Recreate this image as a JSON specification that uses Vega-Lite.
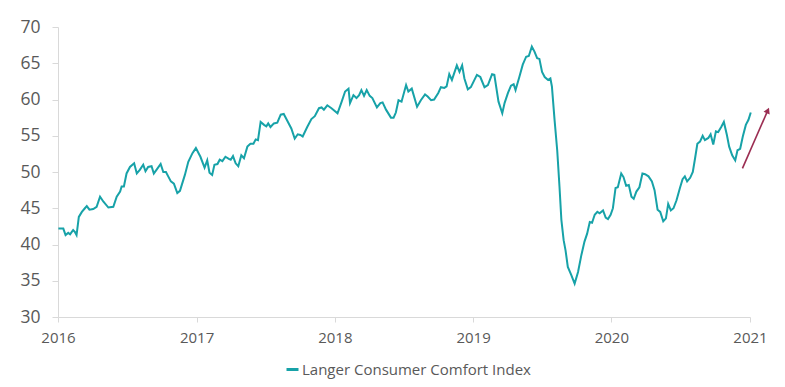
{
  "$schema": "https://vega.github.io/schema/vega-lite/v6.json",
  "autosize": {"type": "none"},
  "width": 692,
  "height": 290,
  "padding": {"left": 58, "top": 27, "right": 35, "bottom": 70},
  "background": "white",
  "config": {
    "view": {"stroke": null},
    "font": "Open Sans",
    "axis": {"grid": false, "domainColor": "#d9d9d9", "tickColor": "#d9d9d9", "labelColor": "#595959", "labelFont": "Open Sans", "title": null, "labelOverlap": false},
    "axisY": {"labelFontSize": 17.5, "tickSize": 6, "labelPadding": 12, "labelOverlap": false, "labelFlush": false},
    "axisX": {"labelFontSize": 15, "tickSize": 5, "labelPadding": 8, "labelFlush": false, "labelOverlap": false}
  },
  "datasets": {
    "idx": [
      {"d": "2016-01-02", "v": 42.2}, {"d": "2016-01-15", "v": 42.2}, {"d": "2016-01-21", "v": 41.3}, {"d": "2016-01-28", "v": 41.6},
      {"d": "2016-02-02", "v": 41.4}, {"d": "2016-02-06", "v": 41.7}, {"d": "2016-02-10", "v": 42.0}, {"d": "2016-02-15", "v": 41.7},
      {"d": "2016-02-19", "v": 41.3}, {"d": "2016-02-25", "v": 43.8}, {"d": "2016-03-04", "v": 44.5}, {"d": "2016-03-12", "v": 45.0},
      {"d": "2016-03-17", "v": 45.3}, {"d": "2016-03-24", "v": 44.8}, {"d": "2016-04-03", "v": 44.9}, {"d": "2016-04-12", "v": 45.2},
      {"d": "2016-04-21", "v": 46.6}, {"d": "2016-04-30", "v": 45.9}, {"d": "2016-05-13", "v": 45.1}, {"d": "2016-05-26", "v": 45.2},
      {"d": "2016-06-04", "v": 46.6}, {"d": "2016-06-13", "v": 47.3}, {"d": "2016-06-17", "v": 48.0}, {"d": "2016-06-23", "v": 48.0},
      {"d": "2016-06-30", "v": 49.8}, {"d": "2016-07-09", "v": 50.7}, {"d": "2016-07-20", "v": 51.2}, {"d": "2016-07-27", "v": 49.8},
      {"d": "2016-08-04", "v": 50.3}, {"d": "2016-08-13", "v": 51.0}, {"d": "2016-08-19", "v": 50.1}, {"d": "2016-08-26", "v": 50.7},
      {"d": "2016-09-04", "v": 50.8}, {"d": "2016-09-10", "v": 49.8}, {"d": "2016-09-17", "v": 50.3}, {"d": "2016-09-28", "v": 51.1},
      {"d": "2016-10-05", "v": 50.0}, {"d": "2016-10-12", "v": 50.0}, {"d": "2016-10-18", "v": 49.4}, {"d": "2016-10-25", "v": 48.7},
      {"d": "2016-11-02", "v": 48.4}, {"d": "2016-11-11", "v": 47.1}, {"d": "2016-11-18", "v": 47.4}, {"d": "2016-12-01", "v": 49.6},
      {"d": "2016-12-10", "v": 51.4}, {"d": "2016-12-21", "v": 52.6}, {"d": "2016-12-30", "v": 53.3},
      {"d": "2017-01-11", "v": 52.1}, {"d": "2017-01-22", "v": 50.6}, {"d": "2017-01-29", "v": 51.6}, {"d": "2017-02-04", "v": 49.9},
      {"d": "2017-02-11", "v": 49.6}, {"d": "2017-02-17", "v": 51.0}, {"d": "2017-02-25", "v": 51.1}, {"d": "2017-03-03", "v": 51.7},
      {"d": "2017-03-10", "v": 51.5}, {"d": "2017-03-18", "v": 52.1}, {"d": "2017-03-27", "v": 51.8}, {"d": "2017-04-01", "v": 51.7},
      {"d": "2017-04-07", "v": 52.2}, {"d": "2017-04-14", "v": 51.2}, {"d": "2017-04-21", "v": 50.8}, {"d": "2017-04-29", "v": 52.3},
      {"d": "2017-05-06", "v": 51.9}, {"d": "2017-05-15", "v": 53.5}, {"d": "2017-05-23", "v": 53.9}, {"d": "2017-05-31", "v": 53.9},
      {"d": "2017-06-06", "v": 54.5}, {"d": "2017-06-12", "v": 54.4}, {"d": "2017-06-19", "v": 56.9}, {"d": "2017-06-28", "v": 56.5},
      {"d": "2017-07-04", "v": 56.3}, {"d": "2017-07-09", "v": 56.7}, {"d": "2017-07-15", "v": 56.2}, {"d": "2017-07-24", "v": 56.7},
      {"d": "2017-08-02", "v": 56.8}, {"d": "2017-08-11", "v": 57.9}, {"d": "2017-08-19", "v": 58.0}, {"d": "2017-08-28", "v": 57.1},
      {"d": "2017-09-08", "v": 56.0}, {"d": "2017-09-17", "v": 54.6}, {"d": "2017-09-25", "v": 55.2}, {"d": "2017-10-02", "v": 55.1},
      {"d": "2017-10-08", "v": 54.9}, {"d": "2017-10-20", "v": 56.2}, {"d": "2017-10-31", "v": 57.3}, {"d": "2017-11-09", "v": 57.7},
      {"d": "2017-11-20", "v": 58.8}, {"d": "2017-11-27", "v": 58.9}, {"d": "2017-12-03", "v": 58.6}, {"d": "2017-12-12", "v": 59.2},
      {"d": "2017-12-23", "v": 58.8},
      {"d": "2018-01-08", "v": 58.1}, {"d": "2018-01-19", "v": 59.7}, {"d": "2018-01-28", "v": 61.1}, {"d": "2018-02-06", "v": 61.5},
      {"d": "2018-02-10", "v": 59.5}, {"d": "2018-02-19", "v": 60.6}, {"d": "2018-02-27", "v": 60.2}, {"d": "2018-03-06", "v": 60.6},
      {"d": "2018-03-12", "v": 61.3}, {"d": "2018-03-19", "v": 60.5}, {"d": "2018-03-26", "v": 61.3}, {"d": "2018-04-03", "v": 60.5},
      {"d": "2018-04-10", "v": 60.2}, {"d": "2018-04-22", "v": 58.9}, {"d": "2018-05-01", "v": 59.5}, {"d": "2018-05-07", "v": 59.6},
      {"d": "2018-05-16", "v": 58.6}, {"d": "2018-05-29", "v": 57.5}, {"d": "2018-06-05", "v": 57.5}, {"d": "2018-06-11", "v": 58.2},
      {"d": "2018-06-18", "v": 59.9}, {"d": "2018-06-26", "v": 59.7}, {"d": "2018-07-08", "v": 62.0}, {"d": "2018-07-14", "v": 61.1},
      {"d": "2018-07-23", "v": 61.5}, {"d": "2018-08-06", "v": 59.0}, {"d": "2018-08-16", "v": 59.9}, {"d": "2018-08-27", "v": 60.7},
      {"d": "2018-09-03", "v": 60.4}, {"d": "2018-09-12", "v": 59.9}, {"d": "2018-09-20", "v": 60.0}, {"d": "2018-10-01", "v": 60.9},
      {"d": "2018-10-08", "v": 61.7}, {"d": "2018-10-17", "v": 61.6}, {"d": "2018-10-23", "v": 61.8}, {"d": "2018-10-30", "v": 63.5},
      {"d": "2018-11-06", "v": 62.7}, {"d": "2018-11-19", "v": 64.7}, {"d": "2018-11-26", "v": 63.8}, {"d": "2018-12-03", "v": 64.7},
      {"d": "2018-12-09", "v": 62.9}, {"d": "2018-12-18", "v": 61.4}, {"d": "2018-12-26", "v": 61.7},
      {"d": "2019-01-11", "v": 63.4}, {"d": "2019-01-20", "v": 63.1}, {"d": "2019-01-31", "v": 61.7}, {"d": "2019-02-09", "v": 62.0},
      {"d": "2019-02-20", "v": 63.5}, {"d": "2019-02-26", "v": 63.4}, {"d": "2019-03-09", "v": 59.7}, {"d": "2019-03-19", "v": 58.1},
      {"d": "2019-03-25", "v": 59.5}, {"d": "2019-04-03", "v": 60.9}, {"d": "2019-04-11", "v": 61.9}, {"d": "2019-04-18", "v": 62.1},
      {"d": "2019-04-23", "v": 61.3}, {"d": "2019-05-03", "v": 63.1}, {"d": "2019-05-12", "v": 64.8}, {"d": "2019-05-21", "v": 65.9},
      {"d": "2019-05-28", "v": 66.0}, {"d": "2019-06-05", "v": 67.3}, {"d": "2019-06-12", "v": 66.6}, {"d": "2019-06-19", "v": 65.7},
      {"d": "2019-06-25", "v": 65.6}, {"d": "2019-07-02", "v": 63.8}, {"d": "2019-07-09", "v": 63.1}, {"d": "2019-07-18", "v": 62.7},
      {"d": "2019-07-24", "v": 62.9}, {"d": "2019-07-28", "v": 61.8}, {"d": "2019-08-04", "v": 57.2}, {"d": "2019-08-11", "v": 53.0},
      {"d": "2019-08-17", "v": 48.0}, {"d": "2019-08-22", "v": 43.4}, {"d": "2019-08-28", "v": 40.6}, {"d": "2019-09-02", "v": 39.2},
      {"d": "2019-09-08", "v": 36.9}, {"d": "2019-09-17", "v": 35.8}, {"d": "2019-09-26", "v": 34.6}, {"d": "2019-10-05", "v": 36.2},
      {"d": "2019-10-14", "v": 38.6}, {"d": "2019-10-22", "v": 40.4}, {"d": "2019-10-29", "v": 41.5}, {"d": "2019-11-05", "v": 43.1},
      {"d": "2019-11-11", "v": 43.0}, {"d": "2019-11-18", "v": 44.1}, {"d": "2019-11-25", "v": 44.5}, {"d": "2019-12-01", "v": 44.3},
      {"d": "2019-12-10", "v": 44.7}, {"d": "2019-12-17", "v": 43.7}, {"d": "2019-12-23", "v": 43.5}, {"d": "2019-12-30", "v": 44.1},
      {"d": "2020-01-05", "v": 45.0}, {"d": "2020-01-12", "v": 47.8}, {"d": "2020-01-18", "v": 47.9}, {"d": "2020-01-27", "v": 49.8},
      {"d": "2020-02-02", "v": 49.3}, {"d": "2020-02-09", "v": 48.1}, {"d": "2020-02-16", "v": 48.2}, {"d": "2020-02-23", "v": 46.6},
      {"d": "2020-02-29", "v": 46.3}, {"d": "2020-03-07", "v": 47.3}, {"d": "2020-03-15", "v": 47.9}, {"d": "2020-03-23", "v": 49.8},
      {"d": "2020-03-30", "v": 49.7}, {"d": "2020-04-08", "v": 49.4}, {"d": "2020-04-17", "v": 48.7}, {"d": "2020-04-24", "v": 47.5},
      {"d": "2020-05-02", "v": 44.8}, {"d": "2020-05-09", "v": 44.5}, {"d": "2020-05-17", "v": 43.2}, {"d": "2020-05-24", "v": 43.6},
      {"d": "2020-05-30", "v": 45.6}, {"d": "2020-06-06", "v": 44.7}, {"d": "2020-06-13", "v": 45.0}, {"d": "2020-06-21", "v": 46.1},
      {"d": "2020-06-30", "v": 47.8}, {"d": "2020-07-07", "v": 49.0}, {"d": "2020-07-13", "v": 49.4}, {"d": "2020-07-19", "v": 48.7},
      {"d": "2020-07-27", "v": 49.2}, {"d": "2020-08-03", "v": 50.0}, {"d": "2020-08-09", "v": 51.9}, {"d": "2020-08-15", "v": 53.9},
      {"d": "2020-08-22", "v": 54.2}, {"d": "2020-08-29", "v": 55.0}, {"d": "2020-09-04", "v": 54.4}, {"d": "2020-09-13", "v": 54.7},
      {"d": "2020-09-19", "v": 55.2}, {"d": "2020-09-26", "v": 53.8}, {"d": "2020-10-03", "v": 55.6}, {"d": "2020-10-09", "v": 55.5},
      {"d": "2020-10-17", "v": 56.2}, {"d": "2020-10-24", "v": 56.9}, {"d": "2020-11-01", "v": 55.1}, {"d": "2020-11-07", "v": 53.5},
      {"d": "2020-11-15", "v": 52.3}, {"d": "2020-11-23", "v": 51.6}, {"d": "2020-11-29", "v": 53.0}, {"d": "2020-12-06", "v": 53.2},
      {"d": "2020-12-13", "v": 54.9}, {"d": "2020-12-21", "v": 56.5}, {"d": "2020-12-28", "v": 57.2}, {"d": "2021-01-03", "v": 58.2}
    ],
    "arrow": [{"d": "2020-12-12", "v": 50.5, "d2": "2021-02-17", "v2": 58.5}]
  },
  "layer": [
    {
      "data": {"name": "idx"},
      "transform": [{"calculate": "'Langer Consumer Comfort Index'", "as": "s"}],
      "mark": {"type": "line", "strokeWidth": 2, "interpolate": "linear"},
      "encoding": {
        "x": {
          "field": "d", "type": "temporal",
          "scale": {"type": "utc", "domain": [{"year": 2016, "month": 1, "date": 1, "utc": true}, {"year": 2021, "month": 1, "date": 1, "utc": true}]},
          "axis": {
            "values": [{"year": 2016, "month": 1, "date": 1, "utc": true}, {"year": 2017, "month": 1, "date": 1, "utc": true}, {"year": 2018, "month": 1, "date": 1, "utc": true}, {"year": 2019, "month": 1, "date": 1, "utc": true}, {"year": 2020, "month": 1, "date": 1, "utc": true}, {"year": 2021, "month": 1, "date": 1, "utc": true}],
            "format": "%Y", "formatType": "utc"
          }
        },
        "y": {
          "field": "v", "type": "quantitative",
          "scale": {"domain": [30, 70], "nice": false, "zero": false},
          "axis": {"values": [30, 35, 40, 45, 50, 55, 60, 65, 70]}
        },
        "color": {
          "field": "s", "type": "nominal",
          "scale": {"range": ["#17a2a8"]},
          "legend": {"title": null, "orient": "none", "legendX": 227, "legendY": 335, "symbolType": "stroke", "symbolSize": 144, "symbolStrokeWidth": 3, "labelFontSize": 15, "labelColor": "#595959", "labelOffset": 2, "labelFont": "Open Sans", "labelLimit": 0, "padding": 0}
        }
      }
    },
    {
      "data": {"name": "arrow"},
      "mark": {"type": "rule", "color": "#9b2d52", "strokeWidth": 1.6},
      "encoding": {
        "x": {"field": "d", "type": "temporal"},
        "y": {"field": "v", "type": "quantitative", "axis": {"values": [30, 35, 40, 45, 50, 55, 60, 65, 70]}},
        "x2": {"field": "d2"},
        "y2": {"field": "v2"}
      }
    },
    {
      "data": {"name": "arrow"},
      "mark": {"type": "point", "shape": "triangle-up", "filled": true, "color": "#9b2d52", "size": 45, "angle": 24, "opacity": 1},
      "encoding": {
        "x": {"field": "d2", "type": "temporal"},
        "y": {"field": "v2", "type": "quantitative", "axis": {"values": [30, 35, 40, 45, 50, 55, 60, 65, 70]}}
      }
    }
  ]
}
